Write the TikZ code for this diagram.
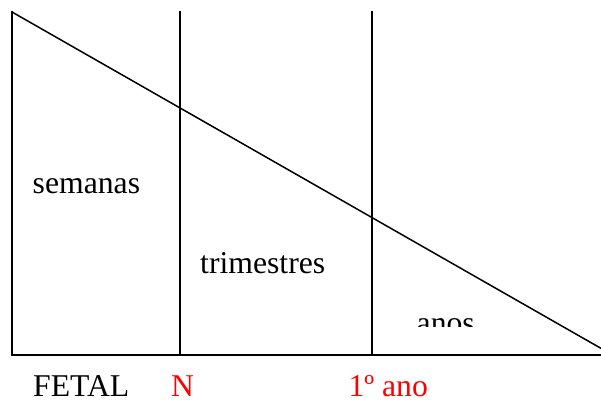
\documentclass[tikz,border=0pt]{standalone}
\usepackage{fontspec}
\setmainfont{Liberation Serif}
\tikzset{
  lbl/.style={anchor=base west, inner sep=0pt, font=\fontsize{31.7}{38}\selectfont},
  botlbl/.style={lbl, text depth=0pt},
  redlbl/.style={botlbl, text=red},
  frame/.style={line width=1.5pt, line cap=rect}
}
\begin{document}
\begin{tikzpicture}[x=1pt,y=-1pt]
\useasboundingbox (0,0) rectangle (601,401);
\clip (0,0) rectangle (601,401);
\coordinate (tl) at (12,12);
\coordinate (bl) at (12,355);
\coordinate (br) at (605,355);
\coordinate (de) at (610,353.5);
\coordinate (n1t) at (180,12);
\coordinate (n1b) at (180,355);
\coordinate (n2t) at (372,12);
\coordinate (n2b) at (372,355);
\draw[frame] (tl) -- (bl) -- (br);
\draw[frame] (n1t) -- (n1b);
\draw[frame] (n2t) -- (n2b);
\draw[line width=1.5pt] (tl) -- (de);
\node[lbl] (sem) at (32.5,193.3) {semanas};
\node[lbl] (tri) at (200,273.3) {trimestres};
\begin{scope}
\clip (380,290) rectangle (520,326);
\node[lbl] (anos) at (416.5,333.5) {anos};
\end{scope}
\node[botlbl] (fetal) at (33,396.5) {FETAL};
\node[redlbl] (n) at (171,396.5) {N};
\node[redlbl] (ano) at (348.3,396.5) {1º ano};
\end{tikzpicture}
\end{document}
